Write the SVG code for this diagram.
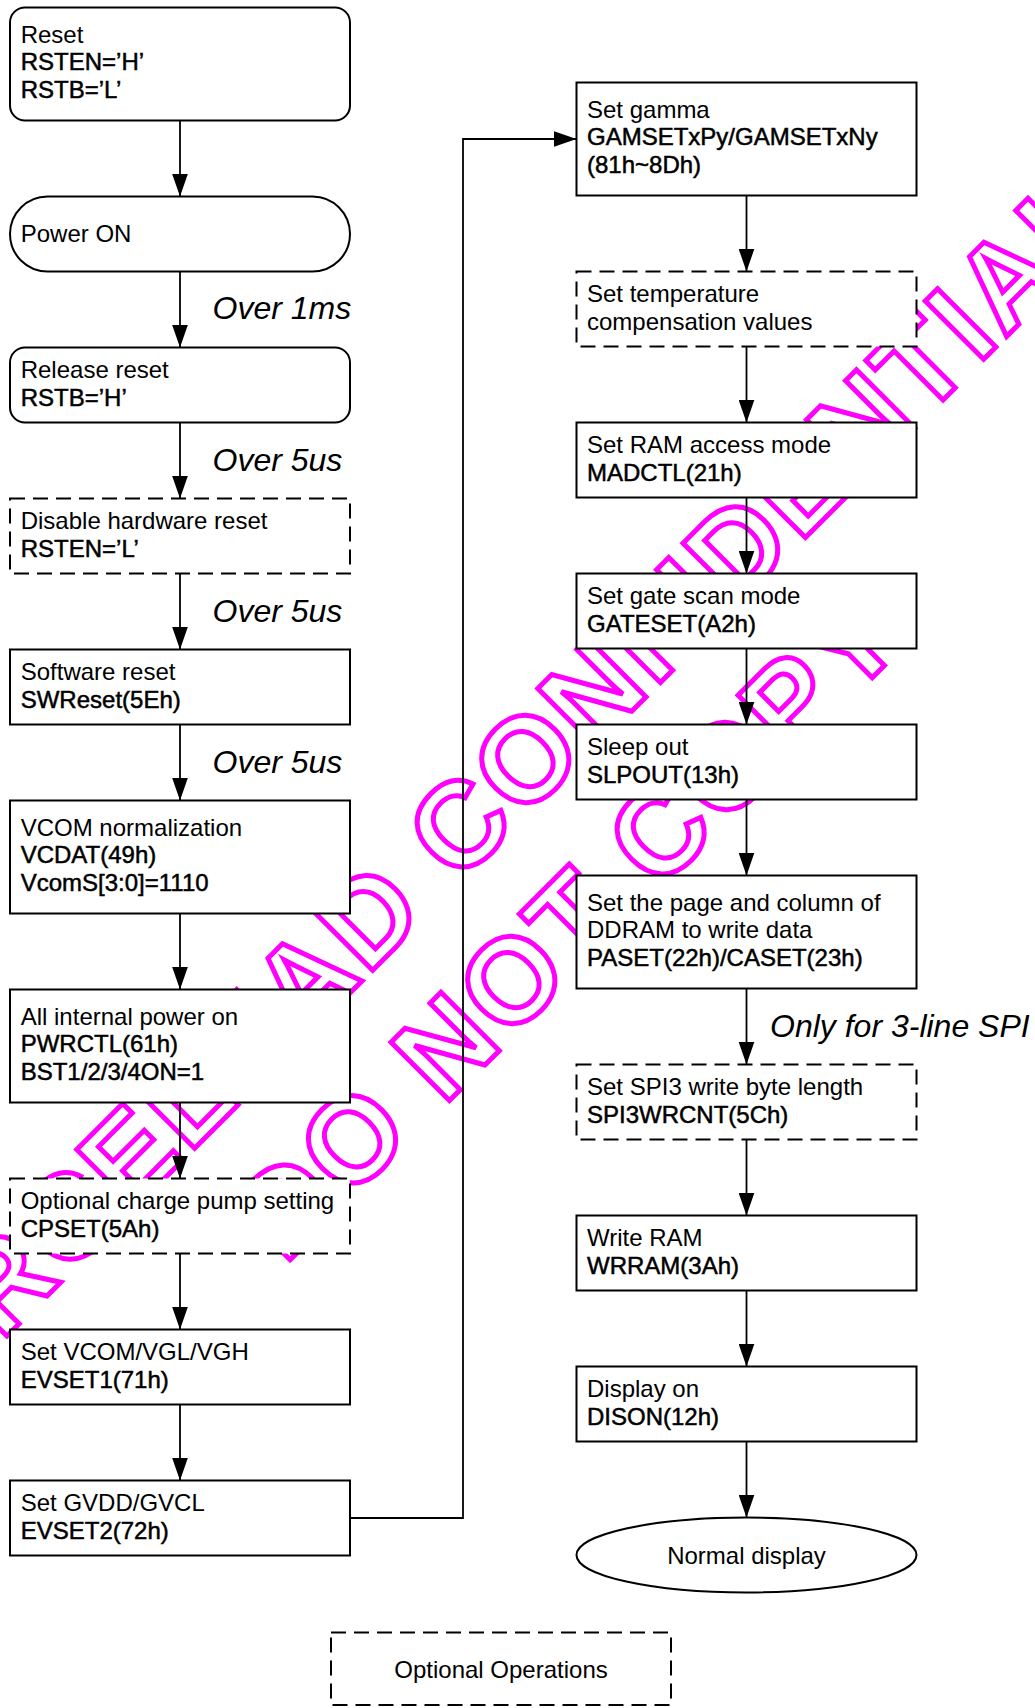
<svg xmlns="http://www.w3.org/2000/svg" width="1035" height="1708" viewBox="0 0 1035 1708">
<style>
.box{fill:#fff;stroke:#000;stroke-width:2}
.dash{stroke-dasharray:15 8}
.t{font-family:"Liberation Sans",Arial,sans-serif;font-size:24px;fill:#000}
.b{stroke:#000;stroke-width:0.5}
.c{text-anchor:middle}
.lbl{font-family:"Liberation Sans",Arial,sans-serif;font-size:32px;font-style:italic;fill:#000}
.wm{font-family:"Liberation Sans",Arial,sans-serif;font-size:120px;font-weight:bold;fill:none;stroke:#ff00ff;stroke-width:5;letter-spacing:4px}
.conn{fill:none;stroke:#000;stroke-width:1.8}
</style>
<defs>
<marker id="ah" markerUnits="userSpaceOnUse" markerWidth="24" markerHeight="16" refX="23" refY="8" orient="auto"><path d="M0,0 L23,8 L0,16 z" fill="#000"/></marker>
</defs>
<rect width="1035" height="1708" fill="#fff"/>
<g id="watermark">
<text class="wm" transform="translate(-122.2,1465.2) rotate(-45)">FORCELEAD CONFIDENTIAL</text>
<text class="wm" transform="translate(284.4,1265.6) rotate(-45)">DO NOT COPY</text>
</g>
<g id="connectors">
<path class="conn" d="M180,120.5 V196.5" marker-end="url(#ah)"/>
<path class="conn" d="M180,271.5 V347.5" marker-end="url(#ah)"/>
<path class="conn" d="M180,422.5 V498.5" marker-end="url(#ah)"/>
<path class="conn" d="M180,573.5 V649.5" marker-end="url(#ah)"/>
<path class="conn" d="M180,724.5 V800.5" marker-end="url(#ah)"/>
<path class="conn" d="M180,913.5 V989.5" marker-end="url(#ah)"/>
<path class="conn" d="M180,1102.5 V1178.5" marker-end="url(#ah)"/>
<path class="conn" d="M180,1253.5 V1329.5" marker-end="url(#ah)"/>
<path class="conn" d="M180,1404.5 V1480.5" marker-end="url(#ah)"/>
<path class="conn" d="M350,1518 H463 V139 H576.5" marker-end="url(#ah)"/>
<path class="conn" d="M746.5,195.5 V271.5" marker-end="url(#ah)"/>
<path class="conn" d="M746.5,346.5 V422.5" marker-end="url(#ah)"/>
<path class="conn" d="M746.5,497.5 V573.5" marker-end="url(#ah)"/>
<path class="conn" d="M746.5,648.5 V724.5" marker-end="url(#ah)"/>
<path class="conn" d="M746.5,799.5 V875.5" marker-end="url(#ah)"/>
<path class="conn" d="M746.5,988.5 V1064.5" marker-end="url(#ah)"/>
<path class="conn" d="M746.5,1139.5 V1215.5" marker-end="url(#ah)"/>
<path class="conn" d="M746.5,1290.5 V1366.5" marker-end="url(#ah)"/>
<path class="conn" d="M746.5,1441.5 V1517.5" marker-end="url(#ah)"/>
</g>
<g id="labels">
<text class="lbl" x="212.5" y="319">Over 1ms</text>
<text class="lbl" x="212.5" y="470.5">Over 5us</text>
<text class="lbl" x="212.5" y="621.5">Over 5us</text>
<text class="lbl" x="212.5" y="772.5">Over 5us</text>
<text class="lbl" x="770" y="1037">Only for 3-line SPI</text>
</g>
<g id="n-reset"><rect class="box" x="10" y="7.5" width="340" height="113" rx="15"/>
<text class="t" x="20.7" y="42.5">Reset</text><text class="t b" x="20.7" y="70">RSTEN=’H’</text><text class="t b" x="20.7" y="97.5">RSTB=’L’</text></g>
<g id="n-power-on"><rect class="box" x="10" y="196.5" width="340" height="75" rx="37.5"/>
<text class="t" x="20.7" y="242">Power ON</text></g>
<g id="n-release"><rect class="box" x="10" y="347.5" width="340" height="75" rx="15"/>
<text class="t" x="20.7" y="378">Release reset</text><text class="t b" x="20.7" y="405.5">RSTB=’H’</text></g>
<g id="n-disable"><rect class="box dash" x="10" y="498.5" width="340" height="75"/>
<text class="t" x="20.7" y="529">Disable hardware reset</text><text class="t b" x="20.7" y="556.5">RSTEN=’L’</text></g>
<g id="n-swreset"><rect class="box" x="10" y="649.5" width="340" height="75"/>
<text class="t" x="20.7" y="680">Software reset</text><text class="t b" x="20.7" y="707.5">SWReset(5Eh)</text></g>
<g id="n-vcom"><rect class="box" x="10" y="800.5" width="340" height="113"/>
<text class="t" x="20.7" y="835.5">VCOM normalization</text><text class="t b" x="20.7" y="863">VCDAT(49h)</text><text class="t b" x="20.7" y="890.5">VcomS[3:0]=1110</text></g>
<g id="n-power"><rect class="box" x="10" y="989.5" width="340" height="113"/>
<text class="t" x="20.7" y="1024.5">All internal power on</text><text class="t b" x="20.7" y="1052">PWRCTL(61h)</text><text class="t b" x="20.7" y="1079.5">BST1/2/3/4ON=1</text></g>
<g id="n-cpset"><rect class="box dash" x="10" y="1178.5" width="340" height="75"/>
<text class="t" x="20.7" y="1209">Optional charge pump setting</text><text class="t b" x="20.7" y="1236.5">CPSET(5Ah)</text></g>
<g id="n-evset1"><rect class="box" x="10" y="1329.5" width="340" height="75"/>
<text class="t" x="20.7" y="1360">Set VCOM/VGL/VGH</text><text class="t b" x="20.7" y="1387.5">EVSET1(71h)</text></g>
<g id="n-evset2"><rect class="box" x="10" y="1480.5" width="340" height="75"/>
<text class="t" x="20.7" y="1511">Set GVDD/GVCL</text><text class="t b" x="20.7" y="1538.5">EVSET2(72h)</text></g>
<g id="n-gamma"><rect class="box" x="576.5" y="82.5" width="340" height="113"/>
<text class="t" x="587" y="117.5">Set gamma</text><text class="t b" x="587" y="145">GAMSETxPy/GAMSETxNy</text><text class="t b" x="587" y="172.5">(81h~8Dh)</text></g>
<g id="n-temp"><rect class="box dash" x="576.5" y="271.5" width="340" height="75"/>
<text class="t" x="587" y="302">Set temperature</text><text class="t" x="587" y="329.5">compensation values</text></g>
<g id="n-madctl"><rect class="box" x="576.5" y="422.5" width="340" height="75"/>
<text class="t" x="587" y="453">Set RAM access mode</text><text class="t b" x="587" y="480.5">MADCTL(21h)</text></g>
<g id="n-gate"><rect class="box" x="576.5" y="573.5" width="340" height="75"/>
<text class="t" x="587" y="604">Set gate scan mode</text><text class="t b" x="587" y="631.5">GATESET(A2h)</text></g>
<g id="n-sleep"><rect class="box" x="576.5" y="724.5" width="340" height="75"/>
<text class="t" x="587" y="755">Sleep out</text><text class="t b" x="587" y="782.5">SLPOUT(13h)</text></g>
<g id="n-page"><rect class="box" x="576.5" y="875.5" width="340" height="113"/>
<text class="t" x="587" y="910.5">Set the page and column of</text><text class="t" x="587" y="938">DDRAM to write data</text><text class="t b" x="587" y="965.5">PASET(22h)/CASET(23h)</text></g>
<g id="n-spi3"><rect class="box dash" x="576.5" y="1064.5" width="340" height="75"/>
<text class="t" x="587" y="1095">Set SPI3 write byte length</text><text class="t b" x="587" y="1122.5">SPI3WRCNT(5Ch)</text></g>
<g id="n-wrram"><rect class="box" x="576.5" y="1215.5" width="340" height="75"/>
<text class="t" x="587" y="1246">Write RAM</text><text class="t b" x="587" y="1273.5">WRRAM(3Ah)</text></g>
<g id="n-dison"><rect class="box" x="576.5" y="1366.5" width="340" height="75"/>
<text class="t" x="587" y="1397">Display on</text><text class="t b" x="587" y="1424.5">DISON(12h)</text></g>
<g id="n-normal"><ellipse class="box" cx="746.5" cy="1555" rx="170" ry="37.5"/>
<text class="t c" x="746.5" y="1563.5">Normal display</text></g>
<g id="legend-optional"><rect class="box dash" x="331" y="1632.5" width="340" height="72.5"/>
<text class="t c" x="501" y="1678">Optional Operations</text></g>
</svg>
